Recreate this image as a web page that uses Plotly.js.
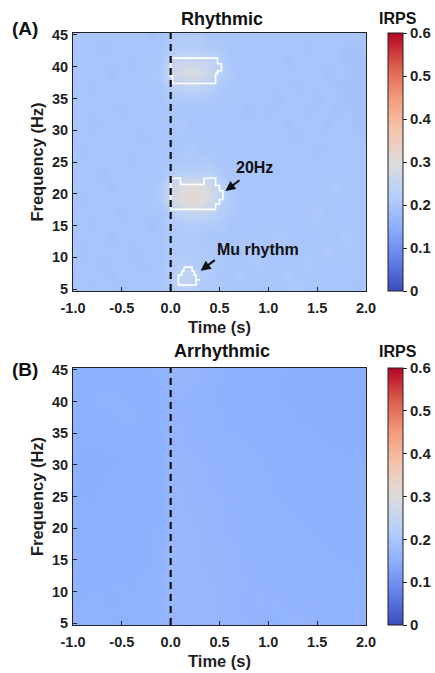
<!DOCTYPE html>
<html>
<head>
<meta charset="utf-8">
<script src="https://cdn.plot.ly/plotly-3.0.1.min.js"></script>
<style>html,body{margin:0;padding:0;background:#fff;}#chart{width:435px;height:673px;}</style>
</head>
<body>
<div id="chart"></div>
<script>
// ---------- DATA ----------
const times = [-1.0,-0.9,-0.8,-0.7,-0.6,-0.5,-0.4,-0.3,-0.2,-0.1,0.0,0.1,0.2,0.3,0.4,0.5,0.6,0.7,0.8,0.9,1.0,1.1,1.2,1.3,1.4,1.5,1.6,1.7,1.8,1.9,2.0];
const freqs = [5,7,9,11,13,15,17,19,21,23,25,27,29,31,33,35,37,39,41,43,45];

// Rhythmic IRPS (rows = freqs, cols = times)
const rhythmicIRPS = [
[0.20,0.20,0.19,0.20,0.20,0.19,0.20,0.20,0.20,0.20, 0.21,0.23,0.23,0.21,0.21,0.21,0.20,0.20,0.20,0.20, 0.20,0.20,0.20,0.21,0.20,0.20,0.20,0.20,0.20,0.19,0.20],
[0.19,0.20,0.20,0.20,0.19,0.20,0.20,0.20,0.20,0.20, 0.22,0.24,0.245,0.22,0.21,0.20,0.20,0.21,0.20,0.20, 0.20,0.20,0.21,0.20,0.20,0.20,0.20,0.20,0.20,0.20,0.20],
[0.20,0.20,0.20,0.19,0.20,0.20,0.20,0.19,0.20,0.20, 0.21,0.22,0.22,0.21,0.21,0.21,0.20,0.20,0.20,0.21, 0.20,0.20,0.20,0.20,0.21,0.20,0.20,0.20,0.20,0.20,0.20],
[0.20,0.19,0.20,0.20,0.20,0.20,0.19,0.20,0.20,0.20, 0.21,0.21,0.21,0.21,0.21,0.20,0.20,0.20,0.21,0.20, 0.20,0.20,0.20,0.20,0.20,0.20,0.21,0.20,0.20,0.20,0.20],
[0.20,0.20,0.20,0.20,0.19,0.20,0.20,0.20,0.20,0.20, 0.21,0.21,0.21,0.21,0.20,0.20,0.20,0.20,0.20,0.20, 0.20,0.21,0.20,0.20,0.20,0.20,0.20,0.20,0.21,0.20,0.20],
[0.20,0.20,0.19,0.20,0.20,0.20,0.20,0.20,0.19,0.20, 0.21,0.21,0.22,0.21,0.21,0.21,0.20,0.20,0.20,0.20, 0.20,0.20,0.20,0.20,0.20,0.20,0.20,0.20,0.20,0.20,0.20],
[0.20,0.20,0.20,0.20,0.20,0.19,0.20,0.20,0.20,0.20, 0.22,0.24,0.25,0.25,0.24,0.22,0.21,0.20,0.20,0.20, 0.20,0.20,0.20,0.20,0.20,0.21,0.20,0.20,0.20,0.20,0.20],
[0.20,0.19,0.20,0.20,0.20,0.20,0.20,0.20,0.20,0.21, 0.27,0.30,0.32,0.31,0.28,0.24,0.21,0.20,0.20,0.20, 0.20,0.20,0.20,0.20,0.20,0.20,0.20,0.20,0.20,0.20,0.20],
[0.20,0.20,0.20,0.20,0.19,0.20,0.20,0.20,0.20,0.21, 0.26,0.29,0.31,0.30,0.28,0.24,0.21,0.20,0.20,0.20, 0.20,0.20,0.20,0.20,0.20,0.20,0.20,0.21,0.20,0.20,0.20],
[0.20,0.20,0.20,0.19,0.20,0.20,0.20,0.20,0.20,0.20, 0.22,0.23,0.23,0.23,0.23,0.21,0.20,0.20,0.20,0.20, 0.20,0.20,0.20,0.20,0.20,0.20,0.20,0.20,0.20,0.20,0.20],
[0.20,0.20,0.20,0.20,0.20,0.20,0.19,0.20,0.20,0.20, 0.20,0.21,0.21,0.21,0.21,0.20,0.20,0.20,0.20,0.20, 0.20,0.20,0.20,0.20,0.20,0.20,0.20,0.20,0.20,0.20,0.20],
[0.20,0.19,0.20,0.20,0.20,0.20,0.20,0.20,0.20,0.20, 0.20,0.20,0.21,0.20,0.20,0.20,0.20,0.20,0.20,0.20, 0.20,0.20,0.20,0.20,0.20,0.19,0.20,0.20,0.20,0.20,0.20],
[0.20,0.20,0.20,0.20,0.20,0.20,0.20,0.19,0.20,0.20, 0.20,0.20,0.20,0.20,0.20,0.20,0.20,0.20,0.20,0.20, 0.20,0.20,0.20,0.19,0.20,0.20,0.20,0.20,0.20,0.20,0.19],
[0.20,0.20,0.19,0.20,0.20,0.20,0.20,0.20,0.20,0.20, 0.20,0.21,0.20,0.20,0.20,0.20,0.20,0.20,0.20,0.20, 0.20,0.20,0.19,0.20,0.20,0.20,0.19,0.20,0.20,0.19,0.19],
[0.20,0.20,0.20,0.20,0.20,0.19,0.20,0.20,0.20,0.20, 0.20,0.20,0.20,0.20,0.20,0.20,0.20,0.20,0.19,0.20, 0.19,0.20,0.20,0.20,0.19,0.20,0.20,0.19,0.20,0.19,0.19],
[0.20,0.20,0.20,0.20,0.20,0.20,0.20,0.20,0.20,0.20, 0.21,0.21,0.21,0.21,0.21,0.20,0.20,0.20,0.20,0.20, 0.20,0.19,0.20,0.20,0.20,0.19,0.20,0.20,0.19,0.19,0.19],
[0.20,0.20,0.19,0.20,0.20,0.20,0.20,0.20,0.20,0.20, 0.23,0.24,0.25,0.24,0.23,0.21,0.20,0.20,0.20,0.20, 0.20,0.20,0.20,0.19,0.20,0.20,0.20,0.19,0.19,0.19,0.19],
[0.20,0.20,0.20,0.20,0.19,0.20,0.20,0.20,0.20,0.21, 0.26,0.28,0.29,0.28,0.26,0.23,0.21,0.20,0.20,0.20, 0.20,0.20,0.20,0.20,0.20,0.20,0.19,0.20,0.20,0.19,0.19],
[0.20,0.20,0.20,0.20,0.20,0.20,0.19,0.20,0.20,0.20, 0.24,0.25,0.26,0.25,0.24,0.22,0.20,0.20,0.20,0.20, 0.20,0.20,0.19,0.20,0.20,0.20,0.20,0.20,0.19,0.19,0.19],
[0.20,0.20,0.20,0.19,0.20,0.20,0.20,0.20,0.20,0.20, 0.21,0.22,0.22,0.22,0.21,0.21,0.20,0.20,0.20,0.20, 0.20,0.20,0.20,0.20,0.19,0.20,0.20,0.20,0.19,0.19,0.20],
[0.20,0.20,0.20,0.20,0.20,0.20,0.20,0.20,0.19,0.20, 0.21,0.21,0.21,0.21,0.20,0.20,0.20,0.20,0.20,0.20, 0.20,0.20,0.20,0.20,0.20,0.20,0.20,0.20,0.20,0.20,0.20]
];

// Arrhythmic IRPS (rows = freqs, cols = times)
const arrhythmicIRPS = [
[.156,.158,.156,.158,.156,.154,.156,.158,.158,.160, .166,.168,.168,.166,.166,.164,.162,.162,.160,.160, .160,.160,.162,.162,.160,.160,.160,.158,.158,.158,.158],
[.156,.156,.158,.156,.156,.156,.158,.158,.158,.160, .168,.170,.168,.168,.166,.164,.162,.160,.160,.160, .160,.162,.160,.160,.160,.158,.158,.160,.158,.158,.156],
[.154,.156,.156,.156,.154,.156,.156,.156,.158,.158, .168,.170,.170,.168,.166,.164,.162,.160,.160,.162, .160,.160,.160,.158,.160,.160,.158,.158,.158,.156,.156],
[.154,.154,.156,.154,.156,.156,.154,.156,.156,.158, .168,.168,.168,.168,.166,.164,.162,.162,.160,.160, .160,.158,.158,.158,.158,.158,.158,.156,.156,.156,.156],
[.156,.154,.154,.154,.154,.154,.154,.156,.156,.158, .170,.170,.168,.166,.164,.162,.162,.160,.160,.158, .158,.158,.158,.158,.158,.156,.156,.156,.156,.156,.154],
[.156,.154,.154,.154,.152,.154,.154,.154,.156,.158, .170,.170,.168,.166,.164,.164,.162,.160,.160,.158, .158,.158,.158,.156,.156,.156,.156,.156,.156,.154,.154],
[.154,.154,.152,.154,.154,.152,.154,.154,.156,.158, .170,.170,.168,.166,.164,.162,.162,.160,.158,.158, .158,.158,.156,.156,.156,.156,.156,.154,.154,.154,.154],
[.154,.152,.152,.152,.152,.152,.154,.154,.156,.156, .168,.168,.168,.166,.164,.162,.160,.160,.158,.158, .158,.156,.156,.156,.156,.156,.154,.154,.154,.154,.154],
[.152,.152,.152,.152,.152,.154,.154,.154,.154,.156, .168,.168,.166,.164,.164,.162,.160,.160,.158,.158, .158,.156,.156,.156,.154,.154,.154,.154,.154,.154,.154],
[.152,.152,.150,.152,.152,.152,.154,.154,.154,.156, .166,.166,.164,.164,.162,.162,.160,.158,.158,.158, .156,.156,.156,.154,.154,.154,.154,.154,.154,.152,.154],
[.152,.150,.150,.152,.152,.152,.152,.154,.154,.156, .166,.166,.164,.162,.162,.160,.160,.158,.158,.158, .156,.156,.154,.154,.154,.154,.154,.152,.154,.152,.152],
[.150,.150,.150,.150,.152,.152,.152,.152,.154,.156, .166,.164,.164,.162,.160,.160,.158,.158,.158,.156, .156,.154,.154,.154,.154,.154,.152,.152,.152,.152,.152],
[.150,.150,.148,.150,.150,.152,.152,.152,.154,.156, .166,.164,.162,.162,.160,.160,.158,.158,.156,.156, .156,.154,.154,.154,.152,.152,.152,.152,.152,.152,.152],
[.150,.148,.148,.150,.150,.150,.152,.152,.154,.154, .164,.164,.162,.160,.160,.158,.158,.156,.156,.156, .154,.154,.154,.152,.152,.152,.152,.152,.150,.152,.150],
[.150,.150,.150,.150,.152,.152,.152,.152,.154,.154, .162,.162,.160,.160,.158,.158,.156,.156,.156,.154, .154,.154,.152,.152,.152,.152,.150,.150,.150,.150,.150],
[.152,.152,.152,.152,.152,.154,.154,.154,.154,.154, .162,.162,.160,.158,.158,.156,.156,.156,.154,.154, .154,.152,.152,.152,.152,.150,.150,.150,.150,.150,.150],
[.154,.154,.154,.154,.154,.156,.156,.154,.154,.154, .160,.160,.160,.158,.156,.156,.154,.154,.154,.154, .152,.152,.152,.150,.150,.150,.150,.150,.148,.150,.150],
[.154,.154,.154,.156,.156,.156,.156,.154,.154,.154, .160,.160,.158,.158,.156,.156,.154,.154,.154,.152, .152,.152,.150,.150,.150,.150,.150,.148,.148,.148,.150],
[.154,.154,.156,.156,.156,.156,.154,.154,.154,.154, .160,.162,.160,.158,.156,.154,.154,.154,.152,.152, .152,.150,.150,.150,.150,.148,.148,.148,.148,.148,.148],
[.154,.154,.154,.154,.154,.154,.154,.154,.154,.156, .162,.164,.162,.160,.158,.156,.154,.154,.152,.152, .152,.150,.150,.150,.150,.150,.148,.148,.148,.148,.148],
[.154,.154,.154,.154,.154,.154,.154,.154,.156,.156, .164,.164,.162,.160,.158,.156,.154,.154,.152,.152, .152,.152,.150,.150,.150,.150,.150,.148,.148,.148,.148]
];

// Significant-cluster outlines (time s, frequency Hz)
const cluster40T = [0.0,0.48,0.48,0.52,0.52,0.48,0.48,0.46,0.46,0.02,0.02,0.0,0.0];
const cluster40F = [41.35,41.35,40.45,40.45,39.35,39.35,38.9,38.9,37.35,37.35,38.55,38.55,41.35];
const cluster20T = [0.0,0.10,0.10,0.34,0.34,0.46,0.46,0.50,0.50,0.535,0.535,0.50,0.50,0.46,0.46,0.0,0.0];
const cluster20F = [22.45,22.45,21.45,21.45,22.45,22.45,21.3,21.3,20.5,20.5,19.1,19.1,18.4,18.4,17.55,17.55,22.45];
const clusterMuT = [0.135,0.22,0.22,0.24,0.24,0.26,0.26,0.30,0.26,0.26,0.08,0.08,0.115,0.115,0.135,0.135];
const clusterMuF = [8.45,8.45,7.8,7.8,7.2,7.2,6.45,6.45,6.45,5.65,5.65,7.2,7.2,7.8,7.8,8.45];

const eventTime = 0;
const xTicks = [-1.0,-0.5,0.0,0.5,1.0,1.5,2.0];
const xTickLabels = ['-1.0','-0.5','0.0','0.5','1.0','1.5','2.0'];
const yTicks = [5,10,15,20,25,30,35,40,45];
const cbTicks = [0,0.1,0.2,0.3,0.4,0.5,0.6];
const cbTickLabels = ['0','0.1','0.2','0.3','0.4','0.5','0.6'];
const panelTitles = ['Rhythmic','Arrhythmic'];
const panelLabels = ['(A)','(B)'];
const annoLabels = ['20Hz','Mu rhythm'];

// ---------- STYLE ----------
const FONT = 'Arial, "Liberation Sans", sans-serif';
const TXT = '#1f1f1f';
const coolwarm = [
  [0.0,'#3b4cc0'],[0.125,'#6282ea'],[0.25,'#8db0fe'],[0.375,'#b8d0f9'],
  [0.5,'#dddcdc'],[0.625,'#f5c4ac'],[0.75,'#f49a7b'],[0.875,'#dc5d4a'],[1.0,'#b40426']
];
const W = 435, H = 673;
const px2x = p => p / W;
const px2y = p => 1 - p / H;

function cbar(y0px, y1px){
  return {
    x: px2x(388), xanchor:'left', xpad:0, ypad:0,
    y: px2y((y0px+y1px)/2), yanchor:'middle',
    len: (y1px-y0px)/H, lenmode:'fraction',
    thickness: 15, thicknessmode:'pixels',
    outlinewidth: 1, outlinecolor:'#222',
    tickmode:'array', tickvals: cbTicks, ticktext: cbTickLabels,
    ticks:'outside', ticklen:4, tickwidth:1, tickcolor:'#222',
    tickfont:{family:FONT, size:15, color:TXT, weight:'bold'}
  };
}

const traces = [
  {type:'heatmap', x:times, y:freqs, z:rhythmicIRPS, xaxis:'x', yaxis:'y',
   colorscale:coolwarm, zmin:0, zmax:0.6, zsmooth:'best', colorbar:cbar(33,291), hoverinfo:'skip'},
  {type:'heatmap', x:times, y:freqs, z:arrhythmicIRPS, xaxis:'x2', yaxis:'y2',
   colorscale:coolwarm, zmin:0, zmax:0.6, zsmooth:'best', colorbar:cbar(368,625), hoverinfo:'skip'},
];
[[cluster40T,cluster40F],[cluster20T,cluster20F],[clusterMuT,clusterMuF]].forEach(([t,f])=>{
  traces.push({type:'scatter', mode:'lines', x:t, y:f, xaxis:'x', yaxis:'y',
    line:{color:'#ffffff', width:1.6, shape:'linear'}, hoverinfo:'skip', showlegend:false});
});

function xax(anchor){
  return {
    domain:[px2x(73), px2x(366)], anchor:anchor, range:[-1.0,2.0],
    tickmode:'array', tickvals:xTicks, ticktext:xTickLabels,
    ticks:'inside', ticklen:4, tickwidth:1, tickcolor:'#222',
    showline:true, linecolor:'#222', linewidth:1, mirror:true,
    showgrid:false, zeroline:false, ticklabelstandoff:4,
    tickfont:{family:FONT, size:14.5, color:TXT, weight:'bold'},
    title:{text:'Time (s)', font:{family:FONT, size:16.5, color:TXT, weight:'bold'}, standoff:6}
  };
}
function yax(anchor, top, bot){
  return {
    domain:[px2y(bot), px2y(top)], anchor:anchor, range:[4.7,45.3],
    tickmode:'array', tickvals:yTicks,
    ticks:'inside', ticklen:4, tickwidth:1, tickcolor:'#222',
    showline:true, linecolor:'#222', linewidth:1, mirror:true,
    showgrid:false, zeroline:false, ticklabelstandoff:1,
    tickfont:{family:FONT, size:14.5, color:TXT, weight:'bold'},
    title:{text:'Frequency (Hz)', font:{family:FONT, size:16.5, color:TXT, weight:'bold'}, standoff:4}
  };
}

const annFont = {family:FONT, size:16, color:'#111', weight:'bold'};
const annotations = [];
[[19,29,18],[351,369,351]].forEach((pos,i)=>{
  annotations.push({xref:'paper', yref:'paper', x:px2x(222), y:px2y(pos[0]), text:panelTitles[i], showarrow:false,
    xanchor:'center', yanchor:'middle', font:{family:FONT, size:18, color:'#111', weight:'bold'}});
  annotations.push({xref:'paper', yref:'paper', x:px2x(25), y:px2y(pos[1]), text:panelLabels[i], showarrow:false,
    xanchor:'center', yanchor:'middle', font:{family:FONT, size:19, color:'#111', weight:'bold'}});
  annotations.push({xref:'paper', yref:'paper', x:px2x(398), y:px2y(pos[2]), text:'IRPS', showarrow:false,
    xanchor:'center', yanchor:'middle', font:{family:FONT, size:16, color:'#111', weight:'bold'}});
});
annotations.push({xref:'x', yref:'y', x:0.86, y:24.2, text:annoLabels[0], showarrow:false, font:annFont});
annotations.push({xref:'x', yref:'y', x:0.56, y:20.45, axref:'x', ayref:'y', ax:0.72, ay:22.3, text:'',
  showarrow:true, arrowhead:2, arrowsize:1, arrowwidth:2, arrowcolor:'#111'});
annotations.push({xref:'x', yref:'y', x:0.894, y:11.3, text:annoLabels[1], showarrow:false, font:annFont});
annotations.push({xref:'x', yref:'y', x:0.307, y:7.9, axref:'x', ayref:'y', ax:0.467, ay:9.74, text:'',
  showarrow:true, arrowhead:2, arrowsize:1, arrowwidth:2, arrowcolor:'#111'});

const shapes = [
  {type:'line', xref:'x', yref:'y domain', x0:eventTime, x1:eventTime, y0:0, y1:1, line:{color:'#111', width:2.2, dash:'7px,5px'}},
  {type:'line', xref:'x2', yref:'y2 domain', x0:eventTime, x1:eventTime, y0:0, y1:1, line:{color:'#111', width:2.2, dash:'7px,5px'}}
];

const layout = {
  width:W, height:H, margin:{l:0,r:0,t:0,b:0,pad:0},
  paper_bgcolor:'#ffffff', plot_bgcolor:'#ffffff',
  showlegend:false,
  font:{family:FONT, color:TXT},
  xaxis:xax('y'), yaxis:yax('x',33,291),
  xaxis2:xax('y2'), yaxis2:yax('x2',368,625),
  annotations:annotations, shapes:shapes
};

Plotly.newPlot('chart', traces, layout, {displayModeBar:false, staticPlot:true});
</script>
</body>
</html>
